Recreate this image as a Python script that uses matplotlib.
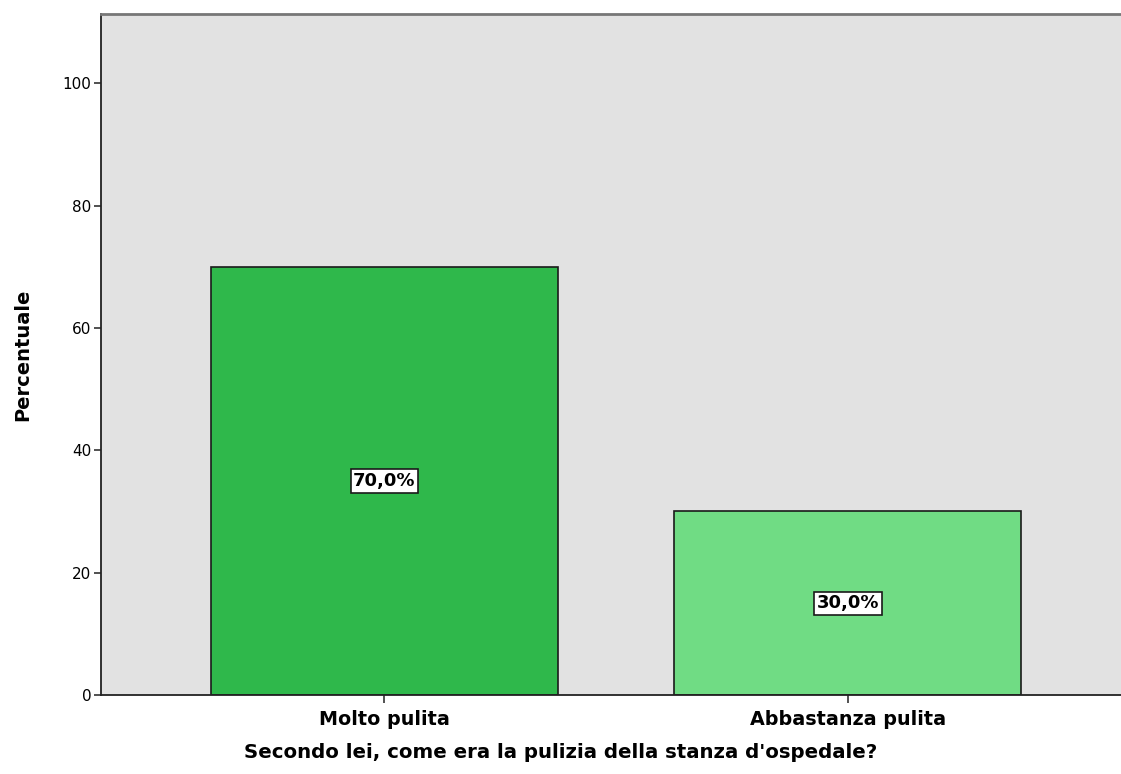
import numpy as np
import matplotlib
matplotlib.use("Agg")
import matplotlib.pyplot as plt

categories = ["Molto pulita", "Abbastanza pulita"]
percent = [70.0, 30.0]
bar_colors = ["#2fb84b", "#70dc84"]
y_ticks = [0, 20, 40, 60, 80, 100]

plt.rcParams['font.family'] = ['DejaVu Sans']

fig = plt.figure(figsize=(11.21, 7.74), dpi=100)
ax = fig.add_axes([101/1121, 79/774, 1 - 101/1121, (695-14)/774])
ax.set_facecolor("#e2e2e2")

x = np.arange(len(categories))
ax.bar(x, percent, width=0.75, color=bar_colors, edgecolor="#1a1a1a", linewidth=1.2, zorder=2)

# value labels in the middle of each bar
for xi, v in zip(x, percent):
  ax.text(xi, v / 2, f"{v:.1f}%".replace(".", ","), ha="center", va="center",
          fontsize=13, fontweight="bold", zorder=3,
          bbox=dict(boxstyle="square,pad=0.15", facecolor="white", edgecolor="#1a1a1a", linewidth=1.2))

ax.set_xlim(-0.612, 1.59)
ax.set_ylim(0, 111.3)
ax.set_yticks(y_ticks)
ax.set_yticklabels([str(t) for t in y_ticks], fontsize=11)
ax.set_xticks(x)
ax.set_xticklabels(categories, fontsize=13.8, fontweight="bold")
ax.tick_params(axis="y", length=5, width=1.2, color="#333333", pad=2)
ax.tick_params(axis="x", length=6, width=1.2, color="#333333", pad=5)

ax.set_ylabel("Percentuale", fontsize=14, fontweight="bold", labelpad=22)
ax.set_xlabel("Secondo lei, come era la pulizia della stanza d'ospedale?", fontsize=14.2,
              fontweight="bold", labelpad=10)
# the title of the x axis sits centred on the whole figure
ax.xaxis.label.set_x((1121 / 2 - 101) / 1020)

ax.spines["right"].set_visible(False)
ax.spines["top"].set_color("#777777")
ax.spines["top"].set_linewidth(2)
ax.spines["left"].set_color("#222222")
ax.spines["left"].set_linewidth(1.3)
ax.spines["bottom"].set_color("#222222")
ax.spines["bottom"].set_linewidth(1.3)

fig.savefig("out.png", dpi=100)
